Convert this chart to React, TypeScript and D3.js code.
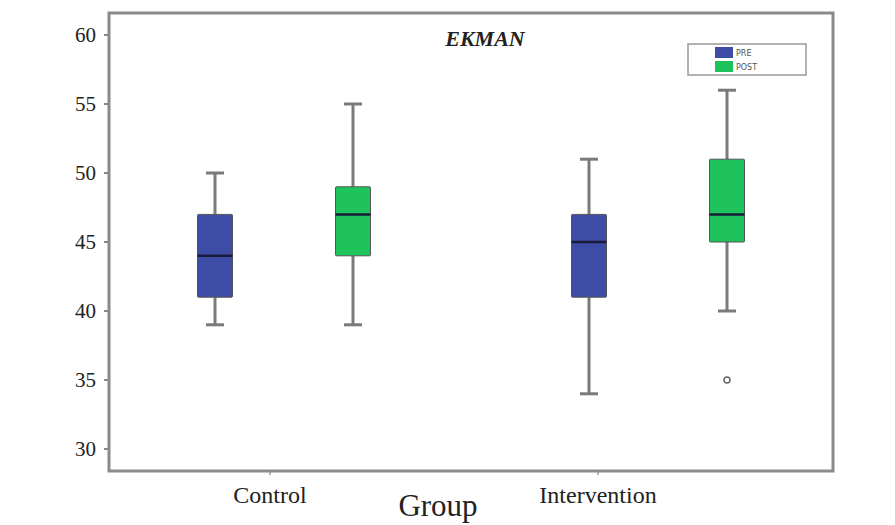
import React from 'react';
import * as d3 from 'd3';

// groups on the x axis and the two series inside each group
const groups = ['Control', 'Intervention'];
const seriesNames = ['PRE', 'POST'];
const seriesColors = ['#3d4da6', '#1fc35c'];

// five-number summaries: [min, q1, median, q3, max]
const controlStats = [
  [39, 41, 44, 47, 50],
  [39, 44, 47, 49, 55],
];
const interventionStats = [
  [34, 41, 45, 47, 51],
  [40, 45, 47, 51, 56],
];
// outliers: [group index, series index, value]
const outliers = [[1, 1, 35]];

const yTicks = [30, 35, 40, 45, 50, 55, 60];

const W = 895;
const H = 525;
const frame = {left: 109, right: 833, top: 13, bottom: 471};
// the category labels sit a little off the box pairs in the original
const labelX = [270, 598];

export default function App() {
  const y = d3.scaleLinear().domain([30, 60]).range([449, 35]);
  const xGroup = d3.scaleBand().domain(groups).range([97, 845]);
  const xSeries = d3.scalePoint().domain(seriesNames).range([-69, 69]);
  const boxW = 35;
  const capW = 18;

  const stats = [controlStats, interventionStats];
  const serif = 'Liberation Serif, DejaVu Serif, serif';

  return (
    <svg width={W} height={H} style={{position: 'absolute', left: 0, top: 0, background: '#fff'}}>
      {/* y ticks */}
      {yTicks.map((t) => (
        <g key={t}>
          <line x1={frame.left - 5} x2={frame.left} y1={y(t)} y2={y(t)} stroke="#888" strokeWidth={2}/>
          <text x={frame.left - 13} y={y(t)} dy="0.35em" textAnchor="end"
                fontFamily={serif} fontSize={21} fill="#222">{t}</text>
        </g>
      ))}

      {/* boxes */}
      {groups.map((g, gi) => seriesNames.map((s, si) => {
        const [mn, q1, md, q3, mx] = stats[gi][si];
        const cx = xGroup(g)! + xGroup.bandwidth() / 2 + xSeries(s)!;
        return (
          <g key={g + s}>
            <line x1={cx} x2={cx} y1={y(mx)} y2={y(q3)} stroke="#7a7a7a" strokeWidth={3}/>
            <line x1={cx} x2={cx} y1={y(q1)} y2={y(mn)} stroke="#7a7a7a" strokeWidth={3}/>
            <line x1={cx - capW / 2} x2={cx + capW / 2} y1={y(mx)} y2={y(mx)} stroke="#7a7a7a" strokeWidth={3}/>
            <line x1={cx - capW / 2} x2={cx + capW / 2} y1={y(mn)} y2={y(mn)} stroke="#7a7a7a" strokeWidth={3}/>
            <rect x={cx - boxW / 2} y={y(q3)} width={boxW} height={y(q1) - y(q3)}
                  fill={seriesColors[si]} stroke="#555" strokeWidth={1} rx={1}/>
            <line x1={cx - boxW / 2} x2={cx + boxW / 2} y1={y(md)} y2={y(md)} stroke="#1a1a3a" strokeWidth={2.5}/>
          </g>
        );
      }))}

      {outliers.map(([gi, si, v], i) => {
        const cx = xGroup(groups[gi])! + xGroup.bandwidth() / 2 + xSeries(seriesNames[si])!;
        return <circle key={i} cx={cx} cy={y(v)} r={3} fill="none" stroke="#666" strokeWidth={1.5}/>;
      })}

      {/* frame */}
      <rect x={frame.left} y={frame.top} width={frame.right - frame.left} height={frame.bottom - frame.top}
            fill="none" stroke="#8a8a8a" strokeWidth={3}/>

      {/* x ticks */}
      {labelX.map((lx, i) => (
        <line key={i} x1={lx} x2={lx} y1={frame.bottom} y2={frame.bottom + 4} stroke="#999" strokeWidth={1.5}/>
      ))}

      <text x={485} y={46} textAnchor="middle" fontFamily={serif} fontSize={22}
            fontWeight="bold" fontStyle="italic" fill="#222">EKMAN</text>

      {/* legend */}
      <rect x={688} y={44} width={118} height={31} fill="#fff" stroke="#999" strokeWidth={1.5}/>
      {seriesNames.map((s, i) => (
        <g key={s}>
          <rect x={715} y={47 + i * 14} width={18} height={11} fill={seriesColors[i]}/>
          <text x={736} y={56 + i * 14} fontFamily="DejaVu Sans, sans-serif" fontSize={8} fill="#555">{s}</text>
        </g>
      ))}

      {/* category labels and axis title */}
      {groups.map((g, i) => (
        <text key={g} x={labelX[i]} y={503} textAnchor="middle" fontFamily={serif} fontSize={24} fill="#222">{g}</text>
      ))}
      <text x={438} y={516} textAnchor="middle" fontFamily={serif} fontSize={31} fill="#222">Group</text>
    </svg>
  );
}
